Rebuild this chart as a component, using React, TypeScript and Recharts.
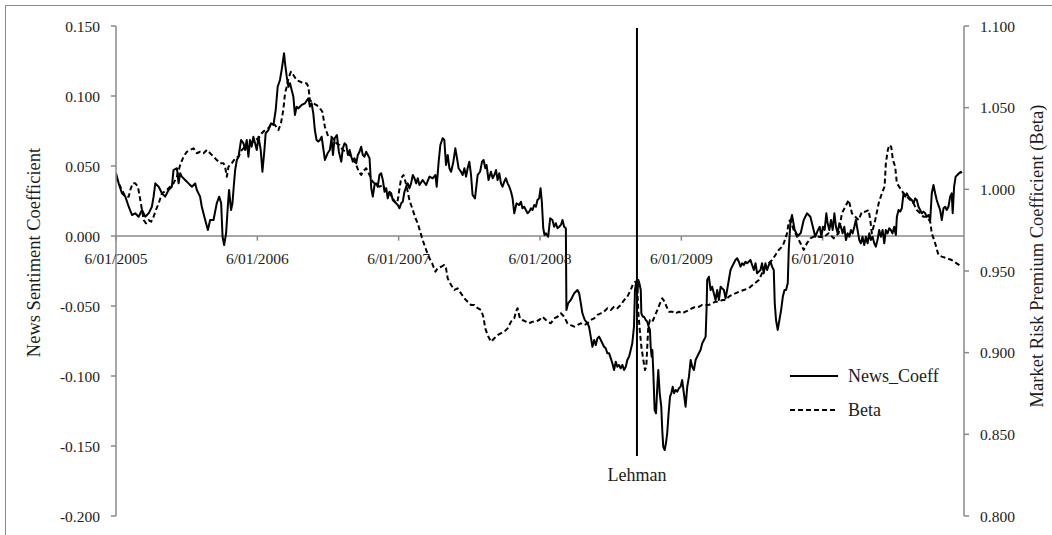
import React from 'react';
import { LineChart, Line, XAxis, YAxis, ReferenceLine, Legend } from 'recharts';

// x values are decimal years counted from 6 January (axis labels read d/mm/yyyy).

const NEWS_COEFF: [number, number][] = [
  [2005.000,0.0448],[2005.019,0.0376],[2005.042,0.0305],[2005.066,0.0281],[2005.090,0.0209],[2005.113,0.0150],[2005.136,0.0162],[2005.160,0.0138],[2005.184,0.0186],[2005.207,0.0138],
  [2005.231,0.0162],[2005.254,0.0209],[2005.266,0.0281],[2005.278,0.0376],[2005.302,0.0352],[2005.325,0.0305],[2005.348,0.0281],[2005.372,0.0329],[2005.395,0.0352],[2005.407,0.0471],
  [2005.431,0.0484],[2005.443,0.0376],[2005.454,0.0448],[2005.466,0.0424],[2005.489,0.0400],[2005.513,0.0376],[2005.537,0.0352],[2005.560,0.0376],[2005.572,0.0329],[2005.595,0.0281],
  [2005.607,0.0209],[2005.631,0.0114],[2005.650,0.0043],[2005.666,0.0114],[2005.690,0.0114],[2005.713,0.0234],[2005.730,0.0281],[2005.744,0.0234],[2005.754,-0.0005],[2005.765,-0.0064],
  [2005.779,0.0019],[2005.791,0.0209],[2005.800,0.0329],[2005.814,0.0186],[2005.824,0.0234],[2005.833,0.0352],[2005.843,0.0471],[2005.855,0.0543],[2005.867,0.0566],[2005.885,0.0686],
  [2005.902,0.0662],[2005.913,0.0614],[2005.925,0.0686],[2005.937,0.0566],[2005.948,0.0686],[2005.960,0.0638],[2005.972,0.0709],[2005.984,0.0662],[2005.996,0.0614],[2006.008,0.0709],
  [2006.024,0.0614],[2006.036,0.0459],[2006.050,0.0614],[2006.059,0.0734],[2006.078,0.0757],[2006.097,0.0805],[2006.114,0.0793],[2006.130,0.0900],[2006.144,0.1066],[2006.160,0.1114],
  [2006.172,0.1186],[2006.179,0.1234],[2006.189,0.1305],[2006.196,0.1234],[2006.208,0.1138],[2006.220,0.1066],[2006.231,0.1091],[2006.243,0.1043],[2006.255,0.0995],[2006.266,0.0864],
  [2006.278,0.0924],[2006.290,0.0912],[2006.314,0.0936],[2006.337,0.0948],[2006.361,0.0984],[2006.372,0.0924],[2006.384,0.0948],[2006.396,0.0876],[2006.407,0.0757],[2006.419,0.0686],
  [2006.431,0.0674],[2006.443,0.0686],[2006.455,0.0709],[2006.478,0.0543],[2006.497,0.0591],[2006.513,0.0614],[2006.525,0.0698],[2006.535,0.0579],[2006.547,0.0698],[2006.563,0.0721],
  [2006.577,0.0602],[2006.594,0.0531],[2006.605,0.0626],[2006.617,0.0662],[2006.629,0.0650],[2006.641,0.0579],[2006.653,0.0614],[2006.665,0.0566],[2006.676,0.0531],[2006.688,0.0555],
  [2006.700,0.0519],[2006.711,0.0579],[2006.723,0.0602],[2006.735,0.0638],[2006.746,0.0579],[2006.758,0.0566],[2006.770,0.0602],[2006.782,0.0579],[2006.794,0.0555],[2006.806,0.0341],
  [2006.817,0.0281],[2006.829,0.0364],[2006.841,0.0376],[2006.852,0.0352],[2006.864,0.0436],[2006.876,0.0448],[2006.888,0.0400],[2006.900,0.0316],[2006.912,0.0341],[2006.923,0.0269],
  [2006.935,0.0316],[2006.947,0.0305],[2006.958,0.0257],[2006.970,0.0245],[2006.982,0.0234],[2006.994,0.0221],[2007.006,0.0198],[2007.018,0.0234],[2007.029,0.0245],[2007.041,0.0316],
  [2007.053,0.0352],[2007.064,0.0376],[2007.076,0.0341],[2007.088,0.0376],[2007.100,0.0436],[2007.112,0.0412],[2007.124,0.0376],[2007.135,0.0412],[2007.147,0.0364],[2007.170,0.0400],
  [2007.194,0.0364],[2007.218,0.0424],[2007.241,0.0412],[2007.260,0.0436],[2007.269,0.0352],[2007.283,0.0531],[2007.295,0.0650],[2007.311,0.0698],[2007.323,0.0686],[2007.335,0.0507],
  [2007.347,0.0579],[2007.359,0.0484],[2007.371,0.0459],[2007.387,0.0531],[2007.401,0.0626],[2007.413,0.0555],[2007.424,0.0484],[2007.441,0.0459],[2007.453,0.0436],[2007.465,0.0484],
  [2007.477,0.0424],[2007.488,0.0484],[2007.500,0.0531],[2007.512,0.0436],[2007.523,0.0293],[2007.540,0.0269],[2007.559,0.0436],[2007.576,0.0459],[2007.590,0.0531],[2007.601,0.0543],
  [2007.613,0.0484],[2007.622,0.0507],[2007.636,0.0400],[2007.653,0.0459],[2007.665,0.0412],[2007.677,0.0436],[2007.689,0.0471],[2007.700,0.0400],[2007.712,0.0448],[2007.724,0.0376],
  [2007.735,0.0352],[2007.747,0.0388],[2007.759,0.0412],[2007.771,0.0376],[2007.783,0.0352],[2007.795,0.0316],[2007.806,0.0269],[2007.818,0.0162],[2007.834,0.0234],[2007.853,0.0221],
  [2007.865,0.0245],[2007.876,0.0198],[2007.888,0.0209],[2007.900,0.0186],[2007.912,0.0162],[2007.924,0.0174],[2007.936,0.0198],[2007.947,0.0186],[2007.959,0.0221],[2007.971,0.0209],
  [2007.982,0.0257],[2007.994,0.0269],[2008.004,0.0341],[2008.013,0.0245],[2008.023,0.0055],[2008.032,0.0007],[2008.042,0.0019],[2008.058,-0.0005],[2008.072,0.0126],[2008.088,0.0114],
  [2008.100,0.0066],[2008.112,0.0091],[2008.124,0.0055],[2008.136,0.0066],[2008.148,0.0079],[2008.159,0.0114],[2008.171,0.0066],[2008.183,0.0055],[2008.187,-0.0529],[2008.199,-0.0481],
  [2008.218,-0.0457],[2008.242,-0.0409],[2008.265,-0.0386],[2008.277,-0.0409],[2008.289,-0.0481],[2008.300,-0.0552],[2008.317,-0.0600],[2008.336,-0.0624],[2008.347,-0.0648],[2008.359,-0.0719],
  [2008.371,-0.0791],[2008.383,-0.0743],[2008.395,-0.0779],[2008.406,-0.0731],[2008.418,-0.0719],[2008.430,-0.0743],[2008.441,-0.0766],[2008.453,-0.0791],[2008.465,-0.0802],[2008.477,-0.0838],
  [2008.489,-0.0838],[2008.501,-0.0874],[2008.512,-0.0909],[2008.524,-0.0957],[2008.536,-0.0898],[2008.547,-0.0934],[2008.559,-0.0921],[2008.571,-0.0945],[2008.583,-0.0921],[2008.595,-0.0957],
  [2008.607,-0.0934],[2008.618,-0.0886],[2008.630,-0.0862],[2008.642,-0.0814],[2008.653,-0.0766],[2008.665,-0.0648],[2008.672,-0.0386],[2008.679,-0.0338],[2008.689,-0.0409],[2008.696,-0.0314],
  [2008.703,-0.0338],[2008.713,-0.0386],[2008.717,-0.0552],[2008.727,-0.0576],[2008.736,-0.0576],[2008.748,-0.0600],[2008.759,-0.0612],[2008.769,-0.0648],[2008.778,-0.0671],[2008.783,-0.0791],
  [2008.790,-0.0862],[2008.795,-0.0814],[2008.802,-0.0981],[2008.811,-0.1243],[2008.821,-0.1266],[2008.830,-0.1076],[2008.837,-0.0957],[2008.847,-0.1124],[2008.858,-0.1219],[2008.865,-0.1386],
  [2008.872,-0.1505],[2008.882,-0.1529],[2008.891,-0.1481],[2008.900,-0.1409],[2008.910,-0.1266],[2008.920,-0.1148],[2008.929,-0.1124],[2008.939,-0.1076],[2008.948,-0.1124],[2008.960,-0.1100],
  [2008.971,-0.1112],[2008.983,-0.1088],[2008.995,-0.1076],[2009.006,-0.1029],[2009.018,-0.1124],[2009.030,-0.1219],[2009.042,-0.1076],[2009.054,-0.1005],[2009.066,-0.0886],[2009.077,-0.0934],
  [2009.089,-0.0957],[2009.101,-0.0886],[2009.112,-0.0862],[2009.124,-0.0838],[2009.136,-0.0814],[2009.148,-0.0766],[2009.160,-0.0743],[2009.172,-0.0719],[2009.179,-0.0505],[2009.183,-0.0314],
  [2009.195,-0.0291],[2009.207,-0.0386],[2009.218,-0.0362],[2009.230,-0.0409],[2009.242,-0.0457],[2009.254,-0.0386],[2009.266,-0.0457],[2009.278,-0.0362],[2009.289,-0.0374],[2009.301,-0.0386],
  [2009.313,-0.0445],[2009.324,-0.0386],[2009.336,-0.0314],[2009.348,-0.0243],[2009.359,-0.0219],[2009.371,-0.0195],[2009.383,-0.0171],[2009.395,-0.0159],[2009.407,-0.0184],[2009.419,-0.0219],
  [2009.430,-0.0195],[2009.442,-0.0207],[2009.454,-0.0184],[2009.465,-0.0195],[2009.477,-0.0184],[2009.489,-0.0171],[2009.501,-0.0207],[2009.513,-0.0243],[2009.525,-0.0195],[2009.536,-0.0266],
  [2009.560,-0.0243],[2009.571,-0.0195],[2009.583,-0.0266],[2009.595,-0.0195],[2009.607,-0.0243],[2009.619,-0.0207],[2009.631,-0.0184],[2009.642,-0.0219],[2009.654,-0.0243],[2009.661,-0.0481],
  [2009.670,-0.0600],[2009.682,-0.0671],[2009.694,-0.0600],[2009.706,-0.0529],[2009.718,-0.0434],[2009.730,-0.0386],[2009.741,-0.0386],[2009.753,-0.0338],[2009.760,-0.0100],[2009.772,0.0100],
  [2009.783,0.0150],[2009.802,0.0043],[2009.824,0.0000],[2009.845,0.0021],[2009.866,0.0114],[2009.889,0.0162],[2009.913,0.0138],[2009.936,0.0043],[2009.948,-0.0005],[2009.967,0.0043],
  [2009.979,0.0066],[2009.991,-0.0005],[2010.002,0.0066],[2010.014,0.0043],[2010.026,0.0162],[2010.035,0.0091],[2010.047,0.0043],[2010.059,0.0114],[2010.071,0.0043],[2010.083,0.0162],
  [2010.094,0.0066],[2010.106,0.0019],[2010.118,0.0091],[2010.129,0.0066],[2010.141,0.0019],[2010.153,0.0066],[2010.165,-0.0029],[2010.177,0.0019],[2010.189,-0.0005],[2010.200,0.0043],
  [2010.212,0.0019],[2010.224,0.0066],[2010.235,0.0114],[2010.247,0.0043],[2010.259,-0.0029],[2010.270,-0.0052],[2010.282,-0.0005],[2010.294,-0.0064],[2010.306,-0.0005],[2010.318,-0.0052],
  [2010.330,0.0019],[2010.341,-0.0029],[2010.353,-0.0005],[2010.365,-0.0052],[2010.376,-0.0076],[2010.388,-0.0029],[2010.400,0.0043],[2010.412,-0.0005],[2010.424,0.0043],[2010.436,-0.0052],
  [2010.447,0.0043],[2010.459,0.0019],[2010.471,0.0055],[2010.482,0.0043],[2010.494,0.0019],[2010.506,0.0066],[2010.518,0.0007],[2010.525,0.0138],[2010.537,0.0186],[2010.549,0.0174],
  [2010.560,0.0198],[2010.572,0.0305],[2010.584,0.0281],[2010.595,0.0305],[2010.607,0.0281],[2010.619,0.0269],[2010.631,0.0257],[2010.643,0.0234],[2010.655,0.0269],[2010.666,0.0257],
  [2010.678,0.0209],[2010.690,0.0186],[2010.701,0.0162],[2010.713,0.0174],[2010.725,0.0162],[2010.737,0.0138],[2010.749,0.0150],[2010.761,0.0114],[2010.772,0.0305],[2010.784,0.0364],
  [2010.796,0.0305],[2010.807,0.0257],[2010.819,0.0221],[2010.831,0.0186],[2010.843,0.0114],[2010.855,0.0198],[2010.867,0.0209],[2010.878,0.0186],[2010.890,0.0209],[2010.902,0.0281],
  [2010.913,0.0305],[2010.920,0.0162],[2010.930,0.0352],[2010.941,0.0424],[2010.953,0.0436],[2010.965,0.0448],[2010.977,0.0459],[2010.984,0.0448],
];

const BETA: [number, number][] = [
  [2005.000,1.0077],[2005.019,1.0037],[2005.042,0.9996],[2005.066,0.9955],[2005.090,0.9955],[2005.101,0.9996],[2005.118,1.0037],[2005.136,1.0037],[2005.155,1.0016],[2005.172,0.9935],
  [2005.184,0.9873],[2005.196,0.9812],[2005.212,0.9792],[2005.231,0.9812],[2005.249,0.9802],[2005.266,0.9832],[2005.282,0.9873],[2005.302,0.9914],[2005.325,0.9976],[2005.344,0.9986],
  [2005.360,0.9996],[2005.383,1.0016],[2005.407,1.0037],[2005.431,1.0077],[2005.454,1.0149],[2005.478,1.0200],[2005.501,1.0230],[2005.525,1.0241],[2005.549,1.0251],[2005.572,1.0221],
  [2005.595,1.0230],[2005.619,1.0221],[2005.643,1.0241],[2005.666,1.0221],[2005.690,1.0200],[2005.713,1.0180],[2005.737,1.0159],[2005.761,1.0159],[2005.772,1.0139],[2005.784,1.0077],
  [2005.796,1.0139],[2005.819,1.0159],[2005.843,1.0190],[2005.867,1.0200],[2005.890,1.0241],[2005.913,1.0261],[2005.937,1.0241],[2005.960,1.0282],[2005.984,1.0302],[2006.008,1.0312],
  [2006.031,1.0343],[2006.054,1.0363],[2006.078,1.0374],[2006.102,1.0404],[2006.125,1.0394],[2006.149,1.0363],[2006.167,1.0404],[2006.184,1.0486],[2006.196,1.0588],[2006.208,1.0628],
  [2006.220,1.0680],[2006.238,1.0720],[2006.255,1.0700],[2006.278,1.0669],[2006.302,1.0659],[2006.326,1.0649],[2006.349,1.0649],[2006.361,1.0628],[2006.372,1.0547],[2006.396,1.0527],
  [2006.419,1.0516],[2006.443,1.0496],[2006.460,1.0475],[2006.478,1.0383],[2006.502,1.0322],[2006.525,1.0322],[2006.559,1.0282],[2006.582,1.0271],[2006.605,1.0241],[2006.629,1.0230],
  [2006.653,1.0210],[2006.676,1.0190],[2006.700,1.0149],[2006.718,1.0108],[2006.735,1.0088],[2006.746,1.0108],[2006.770,1.0129],[2006.794,1.0088],[2006.817,1.0047],[2006.841,1.0027],
  [2006.864,1.0016],[2006.888,1.0027],[2006.912,0.9986],[2006.935,0.9976],[2006.958,0.9945],[2006.982,0.9914],[2006.994,0.9935],[2007.006,1.0006],[2007.018,1.0068],[2007.034,1.0088],
  [2007.048,1.0047],[2007.064,0.9986],[2007.076,0.9935],[2007.088,0.9904],[2007.100,0.9873],[2007.119,0.9823],[2007.135,0.9792],[2007.152,0.9741],[2007.170,0.9690],[2007.182,0.9659],
  [2007.199,0.9618],[2007.218,0.9578],[2007.237,0.9547],[2007.260,0.9496],[2007.276,0.9517],[2007.300,0.9526],[2007.323,0.9537],[2007.335,0.9517],[2007.347,0.9455],[2007.371,0.9414],
  [2007.394,0.9384],[2007.417,0.9394],[2007.441,0.9363],[2007.465,0.9333],[2007.488,0.9312],[2007.512,0.9292],[2007.535,0.9292],[2007.559,0.9272],[2007.583,0.9261],[2007.599,0.9220],
  [2007.613,0.9149],[2007.629,0.9108],[2007.653,0.9067],[2007.677,0.9088],[2007.700,0.9108],[2007.724,0.9119],[2007.747,0.9128],[2007.771,0.9149],[2007.795,0.9190],[2007.818,0.9210],
  [2007.830,0.9251],[2007.841,0.9272],[2007.858,0.9210],[2007.876,0.9200],[2007.900,0.9190],[2007.924,0.9180],[2007.947,0.9190],[2007.971,0.9190],[2007.994,0.9200],[2008.018,0.9220],
  [2008.042,0.9200],[2008.053,0.9190],[2008.077,0.9180],[2008.100,0.9210],[2008.124,0.9220],[2008.148,0.9241],[2008.171,0.9220],[2008.194,0.9180],[2008.218,0.9169],[2008.242,0.9159],
  [2008.265,0.9169],[2008.289,0.9180],[2008.312,0.9169],[2008.336,0.9180],[2008.359,0.9200],[2008.383,0.9210],[2008.406,0.9231],[2008.430,0.9241],[2008.453,0.9251],[2008.477,0.9272],
  [2008.501,0.9261],[2008.524,0.9281],[2008.547,0.9272],[2008.571,0.9292],[2008.595,0.9322],[2008.618,0.9343],[2008.642,0.9384],[2008.660,0.9425],[2008.677,0.9435],[2008.689,0.9384],
  [2008.696,0.9241],[2008.706,0.9139],[2008.717,0.9037],[2008.731,0.8955],[2008.743,0.8894],[2008.752,0.8914],[2008.759,0.9037],[2008.766,0.9159],[2008.778,0.9200],[2008.795,0.9190],
  [2008.811,0.9220],[2008.830,0.9261],[2008.849,0.9302],[2008.865,0.9333],[2008.882,0.9312],[2008.896,0.9281],[2008.912,0.9251],[2008.936,0.9251],[2008.960,0.9241],[2008.983,0.9251],
  [2009.006,0.9241],[2009.030,0.9251],[2009.054,0.9261],[2009.077,0.9272],[2009.101,0.9281],[2009.124,0.9281],[2009.148,0.9292],[2009.172,0.9292],[2009.195,0.9292],[2009.218,0.9302],
  [2009.242,0.9312],[2009.266,0.9312],[2009.289,0.9322],[2009.313,0.9322],[2009.336,0.9343],[2009.371,0.9359],[2009.407,0.9373],[2009.442,0.9384],[2009.477,0.9394],[2009.513,0.9420],
  [2009.548,0.9445],[2009.571,0.9486],[2009.595,0.9526],[2009.619,0.9547],[2009.642,0.9567],[2009.666,0.9598],[2009.689,0.9629],[2009.713,0.9649],[2009.725,0.9670],[2009.748,0.9731],
  [2009.760,0.9802],[2009.772,0.9812],[2009.795,0.9751],[2009.819,0.9710],[2009.843,0.9670],[2009.866,0.9629],[2009.889,0.9670],[2009.913,0.9700],[2009.936,0.9710],[2009.972,0.9710],
  [2010.007,0.9706],[2010.042,0.9731],[2010.078,0.9700],[2010.113,0.9731],[2010.136,0.9853],[2010.160,0.9894],[2010.184,0.9935],[2010.196,0.9894],[2010.207,0.9853],[2010.231,0.9832],
  [2010.254,0.9812],[2010.278,0.9863],[2010.302,0.9863],[2010.325,0.9873],[2010.337,0.9812],[2010.348,0.9731],[2010.372,0.9812],[2010.396,0.9914],[2010.419,0.9976],[2010.438,1.0016],
  [2010.447,1.0159],[2010.461,1.0241],[2010.471,1.0271],[2010.485,1.0261],[2010.497,1.0180],[2010.513,1.0139],[2010.525,1.0037],[2010.549,1.0006],[2010.572,0.9976],[2010.607,0.9945],
  [2010.643,0.9914],[2010.666,0.9873],[2010.690,0.9853],[2010.713,0.9832],[2010.737,0.9832],[2010.761,0.9802],[2010.772,0.9731],[2010.796,0.9670],[2010.819,0.9598],[2010.843,0.9588],
  [2010.878,0.9578],[2010.913,0.9567],[2010.948,0.9547],[2010.984,0.9526],
];

const YEAR_TICKS = [2005, 2006, 2007, 2008, 2009, 2010];
const LEFT_TICKS = [-0.2, -0.15, -0.1, -0.05, 0, 0.05, 0.1, 0.15];
const RIGHT_TICKS = [0.8, 0.85, 0.9, 0.95, 1.0, 1.05, 1.1];

// Lehman Brothers collapse (15 September 2008) and the extent of its marker on the left scale
const LEHMAN_DATE = 2008.686;
const LEHMAN_TOP = 0.1486;
const LEHMAN_BOTTOM = -0.1571;

// legend entries, in display order, with their dash patterns
const LEGEND_ITEMS: { name: string; dash?: string }[] = [
  { name: 'News_Coeff' },
  { name: 'Beta', dash: '5 3' },
];

const FONT = '"Liberation Serif", "Times New Roman", serif';
const TEXT = '#1c1c1c';
const AXIS = '#8a8a8a';

const newsData = NEWS_COEFF.map(([t, v]) => ({ t, v }));
const betaData = BETA.map(([t, v]) => ({ t, v }));

const fmt3 = (v: number) => v.toFixed(3);

const tickStyle = { fill: TEXT, fontSize: 15.5, fontFamily: FONT };

function axisTitle(text: string, dx: number, dy: number) {
  return (props: any) => {
    const vb = props.viewBox || { x: 0, y: 0, width: 0, height: 0 };
    const x = vb.x + dx;
    const y = vb.y + vb.height / 2 + dy;
    return (
      <text
        x={x}
        y={y}
        transform={`rotate(-90, ${x}, ${y})`}
        textAnchor="middle"
        fill={TEXT}
        fontSize={18.5}
        fontFamily={FONT}
      >
        {text}
      </text>
    );
  };
}

function LegendBox() {
  return (
    <div style={{ fontFamily: FONT, fontSize: 18, color: TEXT }}>
      {LEGEND_ITEMS.map((it) => (
        <div key={it.name} style={{ display: 'flex', alignItems: 'center', height: 34 }}>
          <svg width={48} height={6} style={{ display: 'block' }}>
            <line x1={0} x2={48} y1={3} y2={3} stroke="#000" strokeWidth={2} strokeDasharray={it.dash} />
          </svg>
          <span style={{ marginLeft: 10, lineHeight: '18px', whiteSpace: 'nowrap' }}>{it.name}</span>
        </div>
      ))}
    </div>
  );
}

export default function App() {
  return (
    <div style={{ position: 'absolute', left: 0, top: 0, width: 1052, height: 535, background: '#fff' }}>
      <div
        style={{
          position: 'absolute',
          left: 5,
          top: 5,
          width: 1047,
          height: 530,
          boxSizing: 'border-box',
          borderTop: `1.5px solid ${AXIS}`,
          borderLeft: `1.5px solid ${AXIS}`,
        }}
      />
      <div style={{ position: 'absolute', left: 0, top: 0 }}>
        <LineChart width={1052} height={535} margin={{ top: 26, right: 0, bottom: 19, left: 0 }}>
          <XAxis dataKey="t" type="number" domain={[2005, 2011]} hide allowDataOverflow />
          <YAxis
            yAxisId="left"
            orientation="left"
            width={116}
            type="number"
            domain={[-0.2, 0.15]}
            ticks={LEFT_TICKS}
            interval={0}
            tickFormatter={fmt3}
            axisLine={{ stroke: AXIS, strokeWidth: 1.5 }}
            tickLine={{ stroke: AXIS, strokeWidth: 1.5 }}
            tickSize={5}
            tickMargin={11}
            tick={tickStyle}
            allowDataOverflow
            label={{ content: axisTitle('News Sentiment Coefficient', 40, -18.5) }}
          />
          <YAxis
            yAxisId="right"
            orientation="right"
            width={88}
            type="number"
            domain={[0.8, 1.1]}
            ticks={RIGHT_TICKS}
            interval={0}
            tickFormatter={fmt3}
            axisLine={{ stroke: AXIS, strokeWidth: 1.5 }}
            tickLine={{ stroke: AXIS, strokeWidth: 1.5 }}
            tickSize={5}
            tickMargin={11}
            tick={tickStyle}
            allowDataOverflow
            label={{ content: axisTitle('Market Risk Premium Coefficient (Beta)', 79, -15) }}
          />

          <ReferenceLine yAxisId="left" y={0} stroke={AXIS} strokeWidth={1.5} />
          {YEAR_TICKS.map((yr) => (
            <ReferenceLine
              key={yr}
              yAxisId="left"
              segment={[
                { x: yr, y: 0 },
                { x: yr, y: -0.0033 },
              ]}
              stroke={AXIS}
              strokeWidth={1.5}
              label={{
                value: `6/01/${yr}`,
                position: 'bottom',
                offset: 12,
                fill: TEXT,
                fontSize: 15.5,
                fontFamily: FONT,
              }}
            />
          ))}

          <Line
            yAxisId="right"
            data={betaData}
            dataKey="v"
            name="Beta"
            type="linear"
            stroke="#000"
            strokeWidth={2}
            strokeDasharray="5 3"
            strokeLinejoin="round"
            dot={false}
            activeDot={false}
            isAnimationActive={false}
          />
          <Line
            yAxisId="left"
            data={newsData}
            dataKey="v"
            name="News_Coeff"
            type="linear"
            stroke="#000"
            strokeWidth={2}
            strokeLinejoin="round"
            dot={false}
            activeDot={false}
            isAnimationActive={false}
          />

          <ReferenceLine
            yAxisId="left"
            segment={[
              { x: LEHMAN_DATE, y: LEHMAN_TOP },
              { x: LEHMAN_DATE, y: LEHMAN_BOTTOM },
            ]}
            stroke="#000"
            strokeWidth={2}
            label={{
              value: 'Lehman',
              position: 'bottom',
              offset: 12,
              fill: TEXT,
              fontSize: 18,
              fontFamily: FONT,
            }}
          />

          <Legend
            layout="vertical"
            align="center"
            verticalAlign="middle"
            wrapperStyle={{ left: 790, top: 359, width: 180 }}
            content={<LegendBox />}
          />
        </LineChart>
      </div>
    </div>
  );
}
